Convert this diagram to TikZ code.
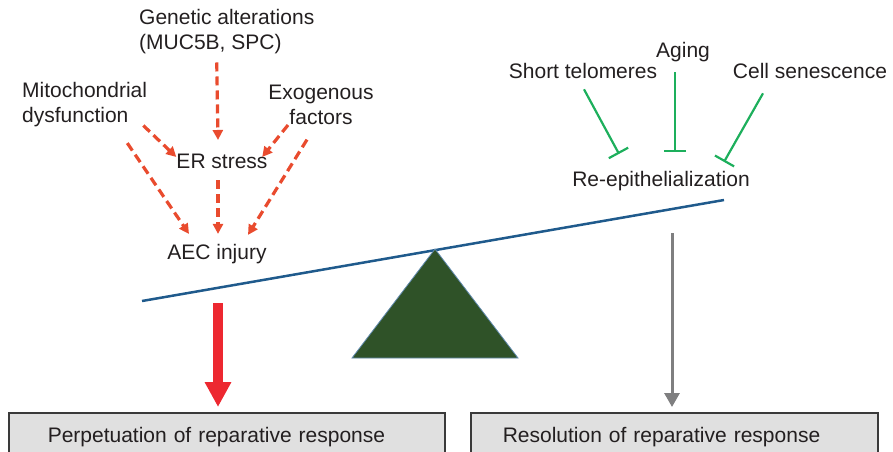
\documentclass[tikz,border=0pt]{standalone}
\usepackage{fontspec}
\setmainfont{Liberation Sans}
\usetikzlibrary{arrows.meta,calc}
\definecolor{ink}{HTML}{231F20}
\definecolor{risk}{HTML}{E94B2E}
\definecolor{brake}{HTML}{1DAF5C}
\definecolor{beam}{HTML}{1F5A8C}
\definecolor{fulcrum}{HTML}{2F5228}
\definecolor{push}{HTML}{ED2830}
\definecolor{calm}{HTML}{7F7F80}
\definecolor{boxfill}{HTML}{E0E0E0}
\definecolor{boxline}{HTML}{3A3A3A}

\begin{document}
\begin{tikzpicture}[x=1pt,y=-1pt,
  lbl/.style={font=\fontsize{21}{25}\selectfont,text=ink,inner sep=0pt},
  riskarrow/.style={risk,line width=3.2pt,dash pattern=on 9pt off 5pt,-{Triangle[length=10pt,width=10pt]}},
  blocker/.style={brake,line width=2.2pt,-{Bar[width=22pt]}},
  outcome/.style={lbl,draw=boxline,line width=1.5pt,fill=boxfill,anchor=north west,
    minimum height=49pt,align=left}]
  \useasboundingbox (0,0) rectangle (893,451);

  % Risk factors (left side)
  \node[lbl,align=left,anchor=west] (gen) at (139,32) {Genetic alterations\\(MUC5B, SPC)};
  \node[lbl,align=left,anchor=west] (mito) at (22,105) {Mitochondrial\\dysfunction};
  \node[lbl,align=center] (exo) at (321,105) {Exogenous\\factors};
  \node[lbl] (er) at (222,161.5) {ER stress};
  \node[lbl] (aec) at (217,254.5) {AEC injury};

  \draw[riskarrow] ($(gen.south)+(-10,8)$) -- ($(er.north)+(-4,-14)$);
  \draw[riskarrow] ($(mito.south east)+(-4,-2)$) -- ($(er.north west)+(0,3)$);
  \draw[riskarrow] ($(mito.south east)+(-20,15.6)$) -- ($(aec.north)+(-28,-10.6)$);
  \draw[riskarrow] ($(exo.south)+(-33,0)$) -- ($(er.north east)+(-5.5,3)$);
  \draw[riskarrow] ($(exo.south)+(-14,14.6)$) -- ($(aec.north)+(31,-9.6)$);
  \draw[riskarrow] ($(er.south)+(-4,11)$) -- ($(aec.north)+(1,-10.6)$);

  % Repair side (right)
  \node[lbl] (aging) at (683,52.5) {Aging};
  \node[lbl] (telo) at (583,71.4) {Short telomeres};
  \node[lbl] (senes) at (810,71.4) {Cell senescence};
  \node[lbl] (reepi) at (661,181.5) {Re-epithelialization};

  \draw[blocker] ($(telo.south)+(1,10)$) -- ($(reepi.north)+(-42,-17.6)$);
  \draw[blocker] ($(aging.south)+(-8,9.6)$) -- ($(reepi.north)+(14,-19.6)$);
  \draw[blocker] ($(senes.south)+(-47,14)$) -- ($(reepi.north)+(63,-9.6)$);

  % Balance
  \coordinate (beamL) at (142,301);
  \coordinate (beamR) at (724,200);
  \draw[beam,line width=2.5pt] (beamL) -- (beamR);
  \filldraw[fill=fulcrum,draw=beam!70!white,line width=0.8pt] (435,249) -- (518,358) -- (352,358) -- cycle;

  % Outcomes
  \node[outcome,inner xsep=39pt,text width=358pt] (perp) at (8,412) {Perpetuation of reparative response};
  \node[outcome,inner xsep=32pt,text width=343pt] (resol) at (470,412) {Resolution of reparative response};

  \coordinate (redtop) at (218,303);
  \coordinate (graytop) at (672,233);
  \draw[push,line width=10pt,-{Triangle[length=25pt,width=25pt]}] (redtop) -- ($(redtop |- perp.north)+(0,-5)$);
  \draw[calm,line width=3pt,-{Triangle[length=14pt,width=15pt]}] (graytop) -- ($(graytop |- resol.north)+(0,-5)$);
\end{tikzpicture}
\end{document}
